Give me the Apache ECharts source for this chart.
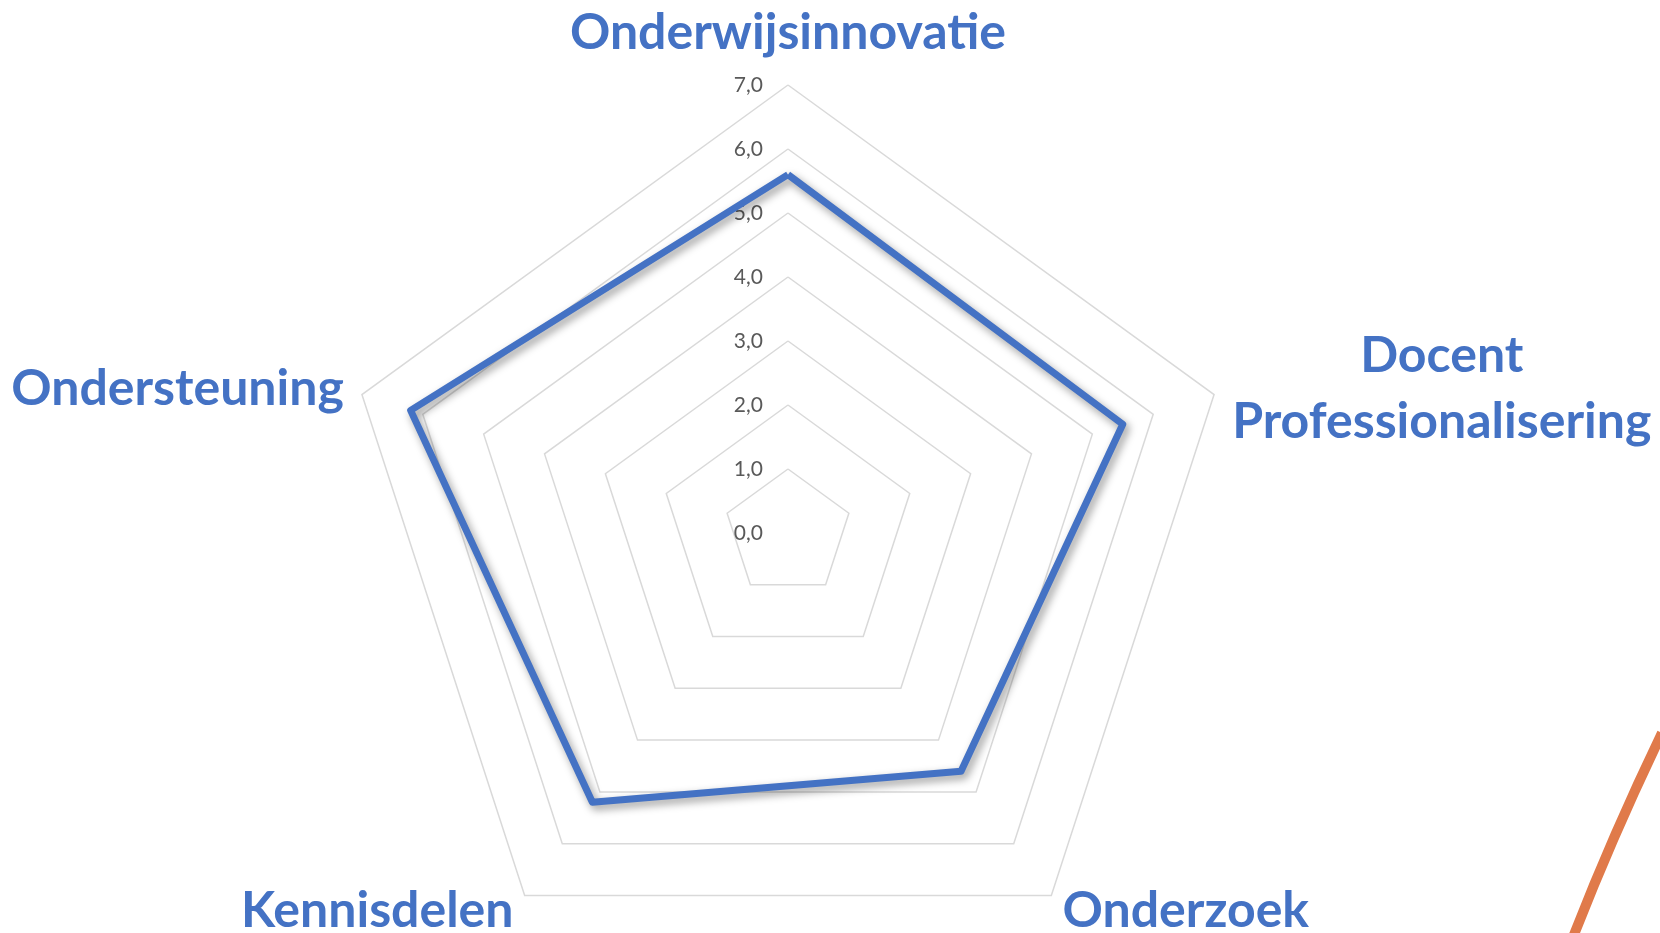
<!DOCTYPE html>
<html>
<head>
<meta charset="utf-8">
<script src="https://cdn.jsdelivr.net/npm/echarts@6/dist/echarts.min.js"></script>
<style>
html,body{margin:0;padding:0;background:#fff;}
#chart{width:1660px;height:933px;}
</style>
</head>
<body>
<div id="chart"></div>
<script>
// Categories in clockwise order starting at the top
const categories = ['Onderwijsinnovatie', 'Docent\nProfessionalisering', 'Onderzoek', 'Kennisdelen', 'Ondersteuning'];
const values = [5.6, 5.5, 4.6, 5.2, 6.2];
const axisMax = 7;
const tickLabels = ['0,0', '1,0', '2,0', '3,0', '4,0', '5,0', '6,0', '7,0'];

// ECharts places radar indicators counter-clockwise; reorder to get clockwise layout
const order = [0].concat(categories.map((_, i) => i).slice(1).reverse());
const indicator = order.map((i, k) => {
  const o = { name: categories[i], max: axisMax, min: 0 };
  if (k === 0) o.axisLabel = { show: true };
  return o;
});
const seriesValues = order.map(i => values[i]);

const chart = echarts.init(document.getElementById('chart'));
const nameStyle = {
  fontFamily: 'Lato', fontWeight: 'bold', fontSize: 50, color: '#4472C4', lineHeight: 66, align: 'center'
};
chart.setOption({
  backgroundColor: '#ffffff',
  animation: false,
  radar: {
    center: [788, 533],
    radius: 448,
    startAngle: 90,
    splitNumber: 7,
    shape: 'polygon',
    indicator: indicator,
    axisName: {
      color: '#4472C4', fontFamily: 'Lato', fontWeight: 'bold', fontSize: 50,
      formatter: function (name) {
        return name.split('\n').map(s => '{n|' + s + '}').join('\n');
      },
      rich: { n: nameStyle }
    },
    nameGap: 19,
    axisLine: { show: false },
    axisTick: { show: false },
    splitArea: { show: false },
    splitLine: { lineStyle: { color: '#d9d9d9', width: 1.5 } },
    axisLabel: {
      show: false,
      margin: 25,
      color: '#595959',
      fontFamily: 'Lato',
      fontSize: 21,
      formatter: function (v) { return tickLabels[Math.round(v)] !== undefined ? tickLabels[Math.round(v)] : ''; }
    }
  },
  series: [{
    type: 'radar',
    symbol: 'none',
    data: [{ value: seriesValues }],
    lineStyle: {
      color: '#4472C4', width: 7,
      shadowColor: 'rgba(0,0,0,0.4)', shadowBlur: 8, shadowOffsetX: 3, shadowOffsetY: 4
    },
    itemStyle: { color: '#4472C4' }
  }],
  graphic: [{
    type: 'bezierCurve',
    shape: { x1: 1662, y1: 733, cpx1: 1611, cpy1: 839, x2: 1570, y2: 945 },
    style: { stroke: '#E07A4A', lineWidth: 10, fill: null }
  }]
});
</script>
</body>
</html>
